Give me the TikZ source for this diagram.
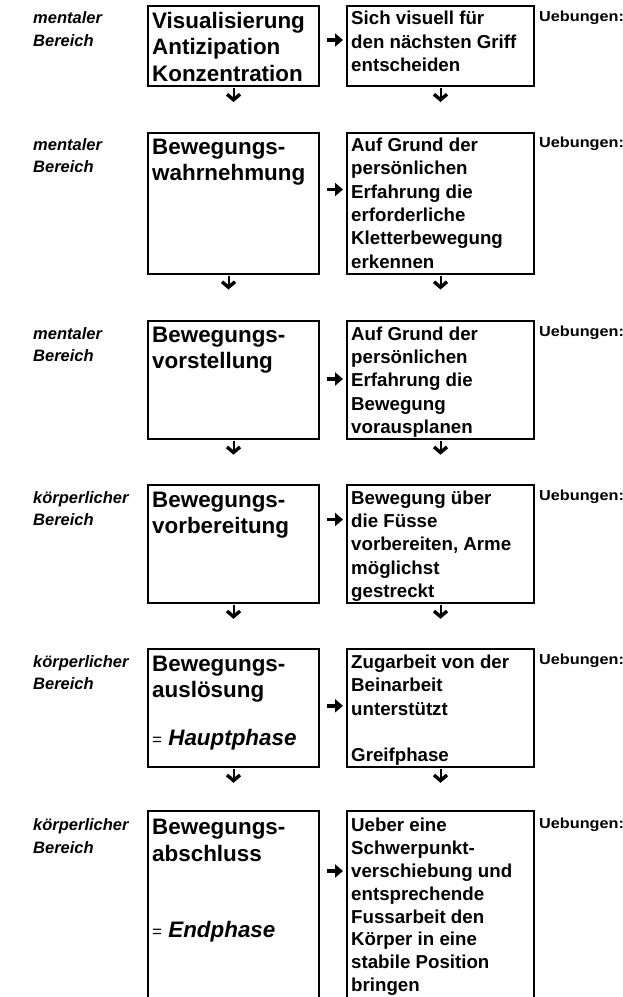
\documentclass[tikz,border=0pt]{standalone}
\usepackage{fontspec}
\setmainfont{Liberation Sans}
\newfontfamily\fueb{Liberation Sans}[FakeStretch=1.12]
\usetikzlibrary{arrows.meta}
\newcommand{\nolsk}{\lineskiplimit=-100pt\relax}
\tikzset{
  box/.style={draw, line width=2pt, rectangle, anchor=north west, inner sep=0pt, outer sep=0pt},
  lbox/.style={box, minimum width=171pt, minimum height=#1},
  rbox/.style={box, minimum width=187pt, minimum height=#1},
  ltext/.style={anchor=north west, inner sep=0pt, align=left, font=\bfseries\fontsize{22.4pt}{26.4pt}\selectfont\nolsk},
  rtext/.style={anchor=north west, inner sep=0pt, align=left, font=\bfseries\fontsize{18.7pt}{#1}\selectfont\nolsk},
  rtext/.default=23.4pt,
  lab/.style={anchor=north west, inner sep=0pt, align=left, font=\bfseries\itshape\fontsize{16.5pt}{22.5pt}\selectfont\nolsk},
  ueb/.style={anchor=base west, inner sep=0pt, font=\fueb\bfseries\fontsize{14.5pt}{15pt}\selectfont},
  darrow/.style={line width=2pt, shorten <=2pt, -{Straight Barb[length=5.5pt,width=13pt,line width=3.4pt]}},
  harrow/.style={line width=3.6pt, -{Triangle[length=8pt,width=13pt]}, shorten <=7.5pt, shorten >=4pt}
}
\newcommand{\fl}{\rule{0pt}{20pt}}
\newcommand{\eqs}{{\mdseries\fontsize{17pt}{17pt}\selectfont=}\ }
\begin{document}
\begin{tikzpicture}[x=1pt,y=-1pt]
\useasboundingbox (0,0) rectangle (623,997);
% ---------- row 1
\node[lbox=80pt] (L1) at (148,6) {};
\node[rbox=80pt] (R1) at (347,6) {};
\node[lab] (A1) at (33,3.7) {\fl mentaler\\Bereich};
\node[ltext] (T1) at (152,8.3) {\fl Visualisierung\\Antizipation\\Konzentration};
\node[rtext] (S1) at (351,4.5) {\fl Sich visuell für\\den nächsten Griff\\entscheiden};
\node[ueb] (U1) at (539,21.1) {Uebungen:};
\draw[harrow] (L1.east |- 0,40) -- (R1.west |- 0,40);
\draw[darrow] (L1.south) -- ++(0,16);
\draw[darrow] (R1.south) -- ++(0,16);
% ---------- row 2
\node[lbox=141pt] (L2) at (148,132.5) {};
\node[rbox=141pt] (R2) at (347,132.5) {};
\node[lab] (A2) at (33,130.2) {\fl mentaler\\Bereich};
\node[ltext] (T2) at (152,134.2) {\fl Bewegungs-\\wahrnehmung};
\node[rtext] (S2) at (351,131) {\fl Auf Grund der\\persönlichen\\Erfahrung die\\erforderliche\\Kletterbewegung\\erkennen};
\node[ueb] (U2) at (539,147.6) {Uebungen:};
\draw[harrow] (L2.east |- 0,189.5) -- (R2.west |- 0,189.5);
\draw[darrow] ([xshift=-5pt]L2.south) -- ++(0,16);
\draw[darrow] (R2.south) -- ++(0,16);
% ---------- row 3
\node[lbox=117.7pt] (L3) at (148,321) {};
\node[rbox=117.7pt] (R3) at (347,321) {};
\node[lab] (A3) at (33,319.1) {\fl mentaler\\Bereich};
\node[ltext] (T3) at (152,321.8) {\fl Bewegungs-\\vorstellung};
\node[rtext] (S3) at (351,319.9) {\fl Auf Grund der\\persönlichen\\Erfahrung die\\Bewegung\\vorausplanen};
\node[ueb] (U3) at (539,336.5) {Uebungen:};
\draw[harrow] (L3.east |- 0,379) -- (R3.west |- 0,379);
\draw[darrow] (L3.south) -- ++(0,16);
\draw[darrow] (R3.south) -- ++(0,16);
% ---------- row 4
\node[lbox=117.6pt] (L4) at (148,485.2) {};
\node[rbox=117.6pt] (R4) at (347,485.2) {};
\node[lab] (A4) at (33,483.1) {\fl körperlicher\\Bereich};
\node[ltext] (T4) at (152,487.1) {\fl Bewegungs-\\vorbereitung};
\node[rtext] (S4) at (351,483.9) {\fl Bewegung über\\die Füsse\\vorbereiten, Arme\\möglichst\\gestreckt};
\node[ueb] (U4) at (539,500.5) {Uebungen:};
\draw[harrow] (L4.east |- 0,519.5) -- (R4.west |- 0,519.5);
\draw[darrow] (L4.south) -- ++(0,16);
\draw[darrow] (R4.south) -- ++(0,16);
% ---------- row 5
\node[lbox=117.6pt] (L5) at (148,649.2) {};
\node[rbox=117.6pt] (R5) at (347,649.2) {};
\node[lab] (A5) at (33,647.2) {\fl körperlicher\\Bereich};
\node[ltext] (T5) at (152,651.2) {\fl Bewegungs-\\auslösung\\[21.6pt]\eqs\textit{Hauptphase}};
\node[rtext] (S5) at (351,648) {\fl Zugarbeit von der\\Beinarbeit\\unterstützt\\[23.4pt]Greifphase};
\node[ueb] (U5) at (539,664.6) {Uebungen:};
\draw[harrow] (L5.east |- 0,705.8) -- (R5.west |- 0,705.8);
\draw[darrow] (L5.south) -- ++(0,16);
\draw[darrow] (R5.south) -- ++(0,16);
% ---------- row 6
\node[lbox=300pt] (L6) at (148,811) {};
\node[rbox=300pt] (R6) at (347,811) {};
\node[lab] (A6) at (33,810.6) {\fl körperlicher\\Bereich};
\node[ltext] (T6) at (152,814.6) {\fl Bewegungs-\\abschluss\\[50.2pt]\eqs\textit{Endphase}};
\node[rtext=22.85pt] (S6) at (351,811.4) {\fl Ueber eine\\Schwerpunkt-\\verschiebung und\\entsprechende\\Fussarbeit den\\Körper in eine\\stabile Position\\bringen};
\node[ueb] (U6) at (539,828) {Uebungen:};
\draw[harrow] (L6.east |- 0,871) -- (R6.west |- 0,871);
\end{tikzpicture}
\end{document}
